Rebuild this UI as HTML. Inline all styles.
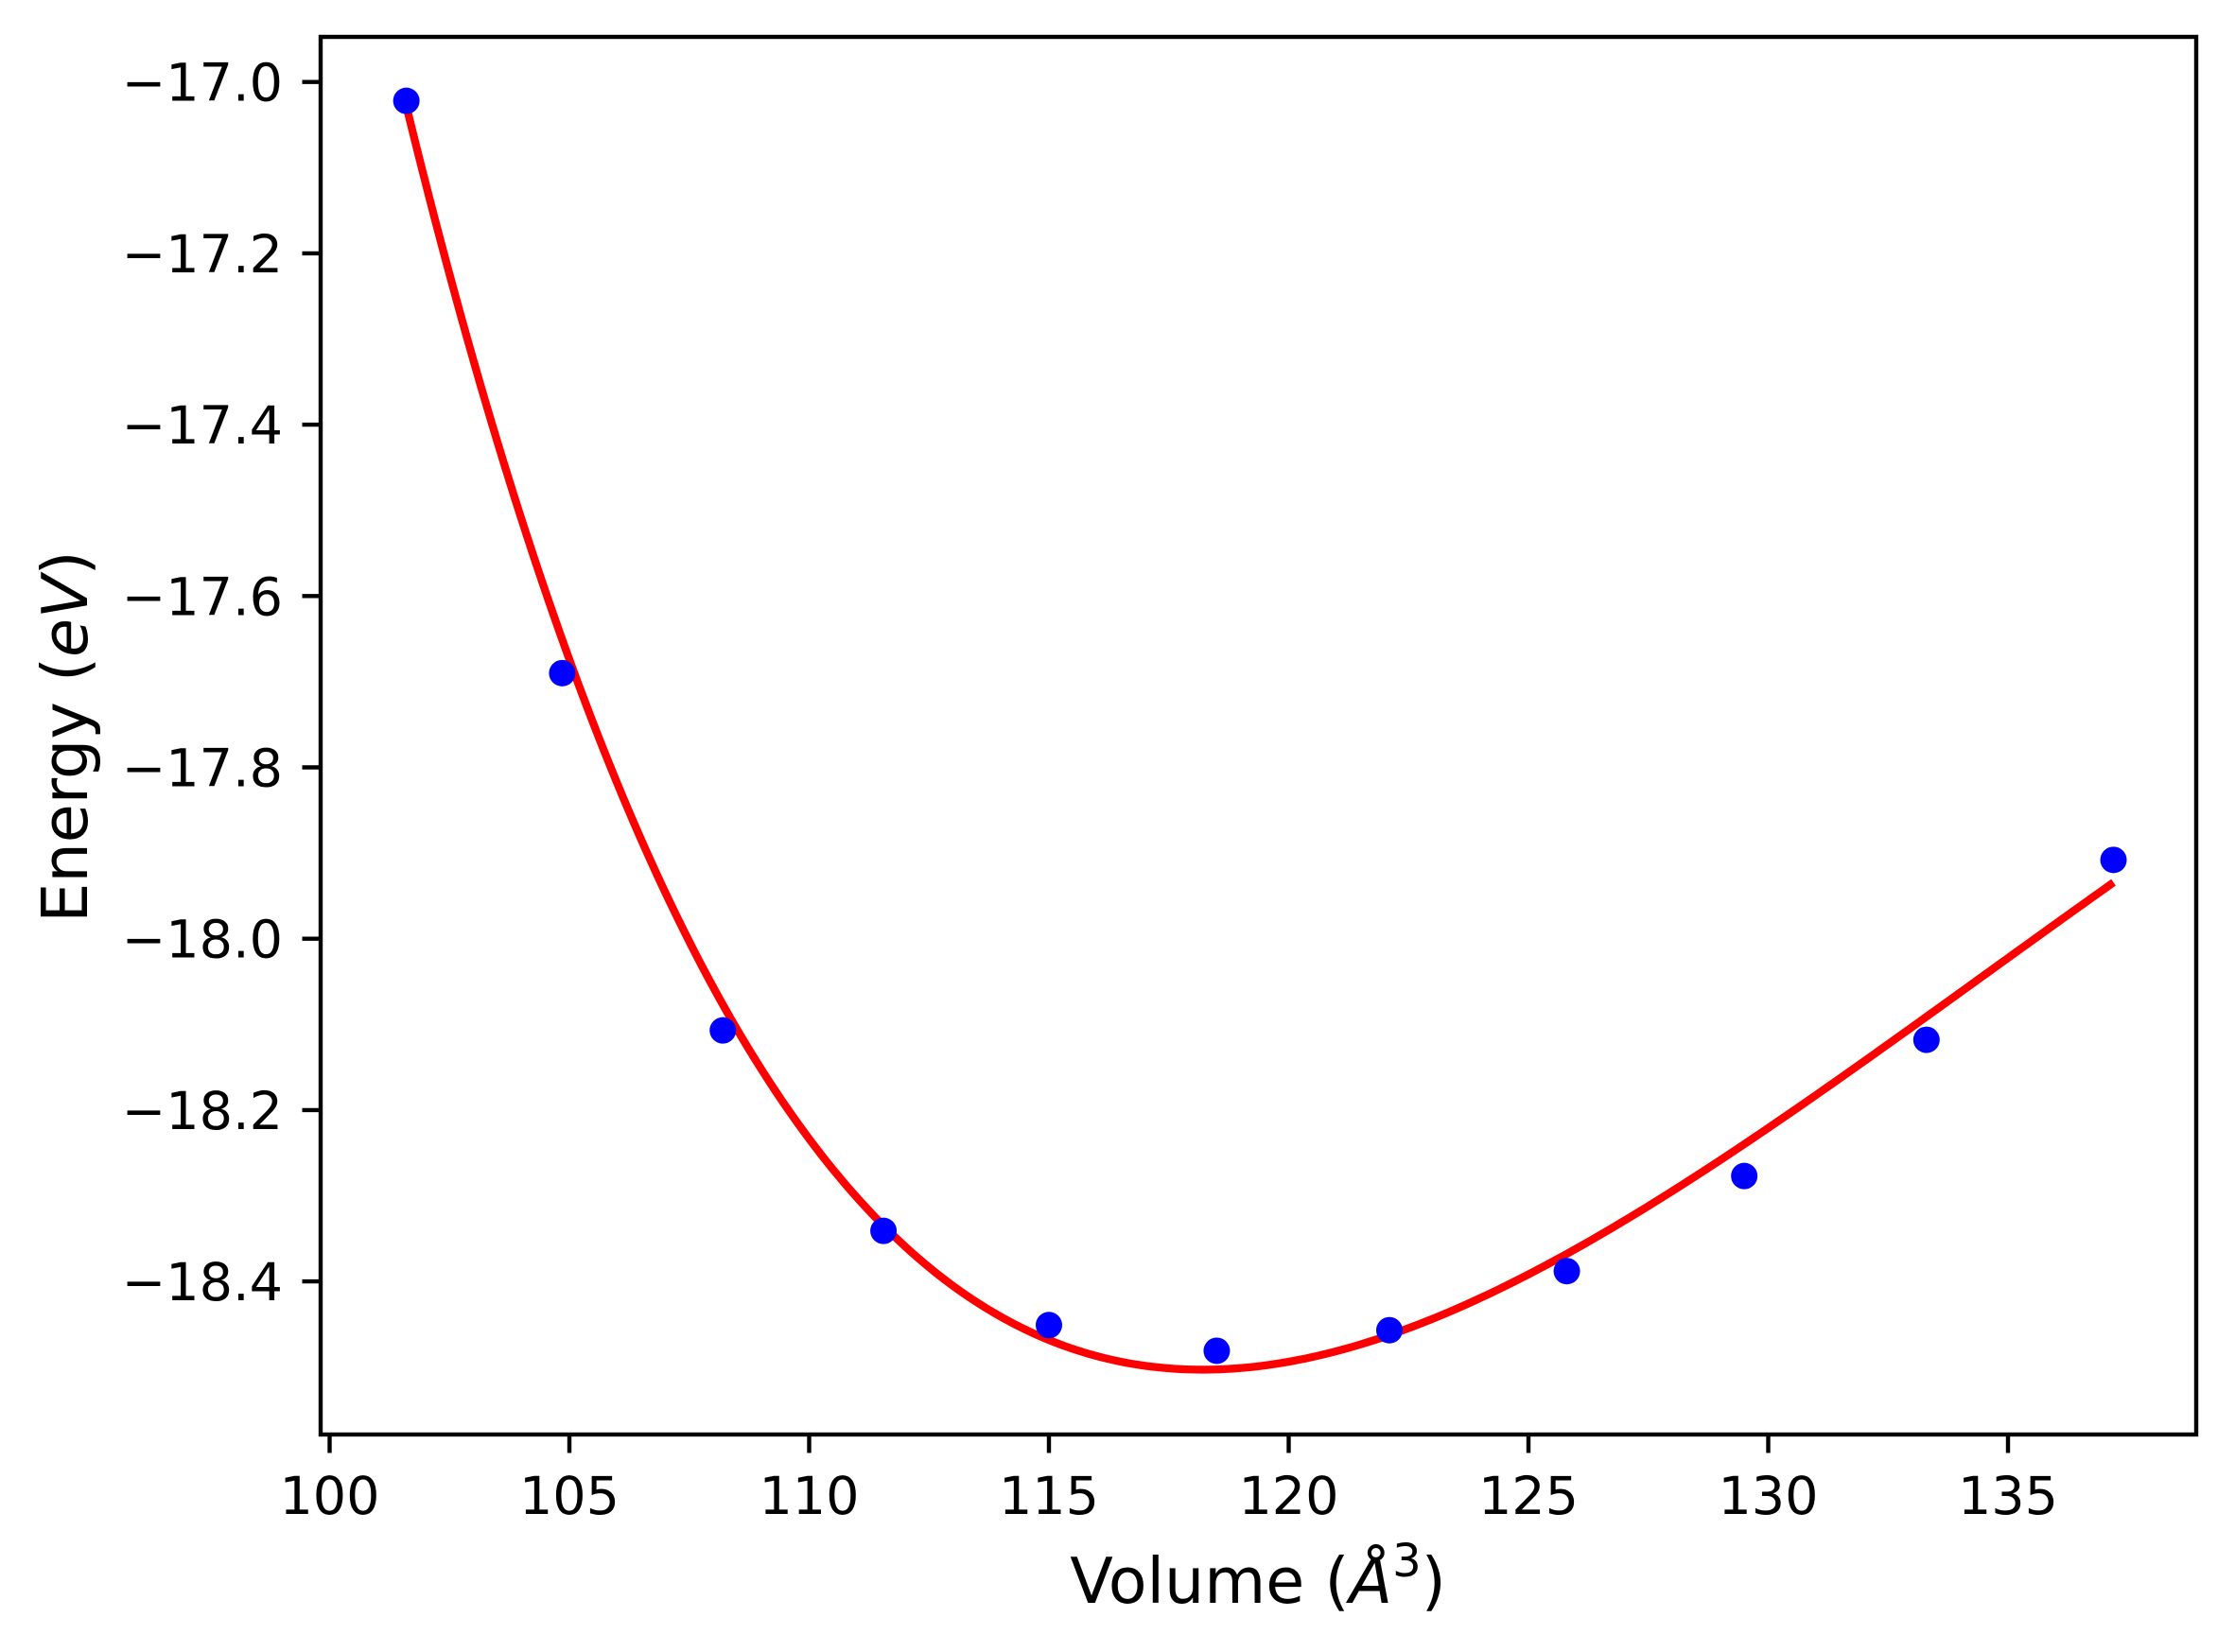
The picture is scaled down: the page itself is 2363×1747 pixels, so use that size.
<!DOCTYPE html>
<html><head><meta charset="utf-8"><style>
html,body{margin:0;padding:0;background:#fff;}
svg{display:block;font-family:"DejaVu Sans","Liberation Sans",sans-serif;}
</style></head><body>
<svg id="chart" width="2363" height="1747" viewBox="0 0 2363 1747" xmlns="http://www.w3.org/2000/svg">
<rect width="2363" height="1747" fill="#fff"/>
<g id="plot"></g>
<g id="xticks"></g>
<g id="yticks"></g>
<rect x="339" y="39" width="1983" height="1478" fill="none" stroke="#000" stroke-width="4.4"/>
<text x="1330" y="1695" font-size="66.7" text-anchor="middle">Volume (<tspan font-style="italic">Å</tspan><tspan font-size="48" dy="-28">3</tspan><tspan dy="28">)</tspan></text>
<text transform="translate(92,779) rotate(-90)" font-size="66.7" text-anchor="middle">Energy (<tspan font-style="italic">eV</tspan>)</text>
</svg>
<script>
const volumes = [101.6, 104.85, 108.2, 111.55, 115.0, 118.5, 122.1, 125.8, 129.5, 133.3, 137.2];
const energies = [-17.022, -17.69, -18.107, -18.341, -18.451, -18.481, -18.457, -18.388, -18.277, -18.118, -17.908];
const fitE0 = [-18.503];
const fitV0 = [118.2];
const fitA = [47.64];
const fitBp = [11.04];
const xTickValues = [100, 105, 110, 115, 120, 125, 130, 135];
const xTickLabels = ["100","105","110","115","120","125","130","135"];
const yTickValues = [-17.0, -17.2, -17.4, -17.6, -17.8, -18.0, -18.2, -18.4];
const yTickLabels = ["\u221217.0","\u221217.2","\u221217.4","\u221217.6","\u221217.8","\u221218.0","\u221218.2","\u221218.4"];

const NS = "http://www.w3.org/2000/svg";
function xs(v){ return 348.5 + (v - 100) * 50.7; }
function ys(e){ return 86.7 + (-17.0 - e) / 0.2 * 181.2; }
function mk(tag, attrs, parent){ const el=document.createElementNS(NS,tag); for(const k in attrs) el.setAttribute(k, attrs[k]); parent.appendChild(el); return el; }
function bm(V){
  const eta = Math.pow(fitV0[0]/V, 2/3) - 1;
  return fitE0[0] + fitA[0]*(eta*eta*eta*fitBp[0] + eta*eta*(6 - 4*(eta+1)));
}
const plot = document.getElementById('plot');
let d = "";
const v0 = volumes[0], v1 = volumes[volumes.length-1];
for(let i=0;i<=300;i++){
  const v = v0 + (v1-v0)*i/300;
  d += (i?"L":"M") + xs(v).toFixed(2) + "," + ys(bm(v)).toFixed(2);
}
const line = mk('path', {d:d, fill:'none', stroke:'#ff0000', 'stroke-width':'8.3', 'stroke-linejoin':'round'}, plot);


volumes.forEach((v,i)=>{
  const c = mk('circle', {cx:xs(v), cy:ys(energies[i]), r:14, fill:'#0000ff'}, plot);
  
  
});
const xg = document.getElementById('xticks');
xTickValues.forEach((v,i)=>{
  const x = xs(v);
  const t = mk('line', {x1:x, x2:x, y1:1517, y2:1536.5, stroke:'#000', 'stroke-width':'4.4'}, xg);
  
  
  const l = mk('text', {x:x, y:1601, 'font-size':'55.6', 'text-anchor':'middle'}, xg);
  l.textContent = xTickLabels[i];
  
  
});
const yg = document.getElementById('yticks');
yTickValues.forEach((e,i)=>{
  const y = ys(e);
  const t = mk('line', {x1:319.5, x2:339, y1:y, y2:y, stroke:'#000', 'stroke-width':'4.4'}, yg);
  
  
  const l = mk('text', {x:299, y:y+20, 'font-size':'55.6', 'text-anchor':'end'}, yg);
  l.textContent = yTickLabels[i];
  
  
});
</script>
</body></html>
